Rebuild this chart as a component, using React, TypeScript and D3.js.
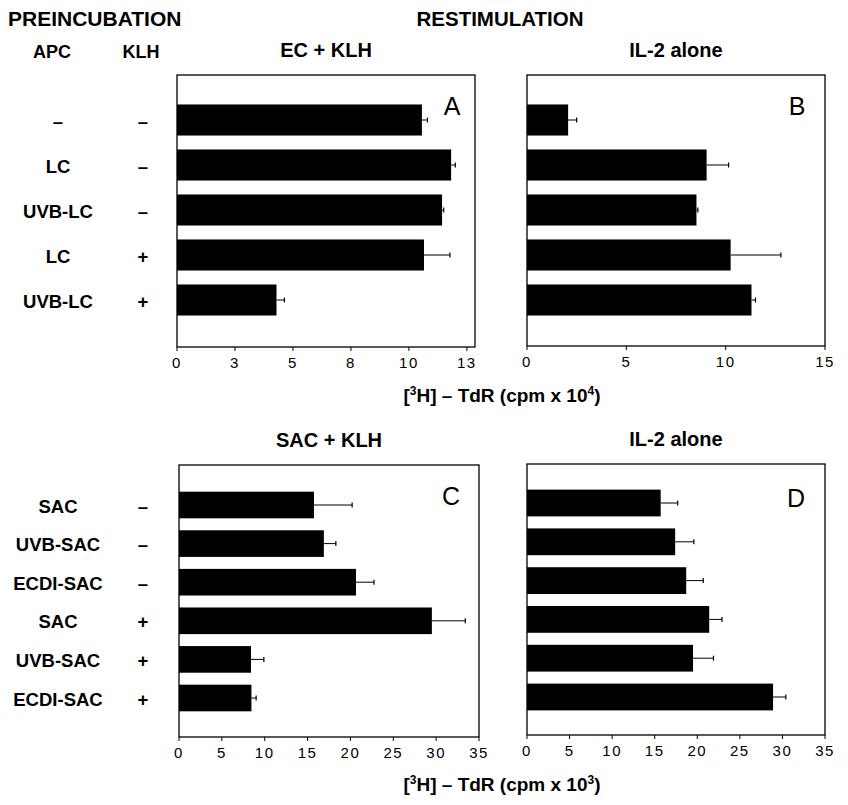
import React from "react";
import * as d3 from "d3";

// ---- Data ----
const apcTop = ["–", "LC", "UVB-LC", "LC", "UVB-LC"];
const klhTop = ["–", "–", "–", "+", "+"];
const apcBottom = ["SAC", "UVB-SAC", "ECDI-SAC", "SAC", "UVB-SAC", "ECDI-SAC"];
const klhBottom = ["–", "–", "–", "+", "+", "+"];

const valuesA = [10.56, 11.82, 11.43, 10.65, 4.29];
const errorsA = [0.24, 0.18, 0.07, 1.12, 0.34];
const valuesB = [2.07, 9.04, 8.53, 10.25, 11.3];
const errorsB = [0.43, 1.11, 0.07, 2.53, 0.2];
const valuesC = [15.75, 16.9, 20.65, 29.5, 8.4, 8.45];
const errorsC = [4.45, 1.4, 2.1, 3.9, 1.5, 0.55];
const valuesD = [15.7, 17.4, 18.7, 21.4, 19.5, 28.9];
const errorsD = [2.0, 2.2, 2.0, 1.5, 2.4, 1.5];

const ticksA = [0, 2.5, 5, 7.5, 10, 12.5];
const tickLabelsA = ["0", "3", "5", "8", "10", "13"];
const ticksB = [0, 5, 10, 15];
const ticksCD = [0, 5, 10, 15, 20, 25, 30, 35];

const FONT = "'Liberation Sans', Arial, Helvetica, sans-serif";

type PanelProps = {
  values: number[];
  errors: number[];
  xDomain: [number, number];
  xRange: [number, number];
  yRange: [number, number];
  top: number;
  bottom: number;
  ticks: number[];
  tickLabels?: string[];
  letter: string;
  letterX: number;
  letterY: number;
  title: string;
};

function Panel(p: PanelProps) {
  const x = d3.scaleLinear().domain(p.xDomain).range(p.xRange);
  const y = d3
    .scaleBand<number>()
    .domain(d3.range(p.values.length))
    .range(p.yRange)
    .paddingInner(0.31)
    .paddingOuter(0.155);
  const [x0, x1] = p.xRange;
  return (
    <g>
      <text
        x={(x0 + x1) / 2}
        y={p.top - 18}
        textAnchor="middle"
        fontFamily={FONT}
        fontWeight="bold"
        fontSize={20}
      >
        {p.title}
      </text>
      <rect
        x={x0}
        y={p.top}
        width={x1 - x0}
        height={p.bottom - p.top}
        fill="none"
        stroke="#000"
        strokeWidth={1.3}
      />
      {p.values.map((v, i) => {
        const yc = (y(i) as number) + y.bandwidth() / 2;
        const xe = x(v + p.errors[i]);
        return (
          <g key={i}>
            <rect
              x={x(0)}
              y={y(i)}
              width={x(v) - x(0)}
              height={y.bandwidth()}
              fill="#000"
            />
            <line x1={x(v)} x2={xe} y1={yc} y2={yc} stroke="#000" strokeWidth={1} />
            <line x1={xe} x2={xe} y1={yc - 2.5} y2={yc + 2.5} stroke="#000" strokeWidth={1.2} />
          </g>
        );
      })}
      {p.ticks.map((t, i) => (
        <g key={t}>
          <line x1={x(t)} x2={x(t)} y1={p.bottom} y2={p.bottom + 4} stroke="#000" strokeWidth={1} />
          <text
            x={x(t)}
            y={p.bottom + 21}
            textAnchor="middle"
            fontFamily={FONT}
            fontSize={15}
            letterSpacing={1.5}
          >
            {p.tickLabels ? p.tickLabels[i] : String(t)}
          </text>
        </g>
      ))}
      <text
        x={p.letterX}
        y={p.letterY}
        textAnchor="middle"
        fontFamily={FONT}
        fontSize={25}
      >
        {p.letter}
      </text>
    </g>
  );
}

function RowLabels({
  apc,
  klh,
  yRange,
}: {
  apc: string[];
  klh: string[];
  yRange: [number, number];
}) {
  const y = d3
    .scaleBand<number>()
    .domain(d3.range(apc.length))
    .range(yRange)
    .paddingInner(0.31)
    .paddingOuter(0.155);
  return (
    <g fontFamily={FONT} fontWeight="bold" fontSize={18.5}>
      {apc.map((a, i) => {
        const yc = (y(i) as number) + y.bandwidth() / 2 + 1;
        return (
          <g key={i}>
            <text x={58} y={yc} textAnchor="middle" dominantBaseline="central">
              {a}
            </text>
            <text x={143} y={yc} textAnchor="middle" dominantBaseline="central">
              {klh[i]}
            </text>
          </g>
        );
      })}
    </g>
  );
}

export default function App() {
  const yTop: [number, number] = [97.5, 322.5];
  const yBotC: [number, number] = [485.7, 717.3];
  const yBotD: [number, number] = [483.6, 716.4];
  return (
    <svg width={848} height={805} style={{ display: "block", position: "absolute", left: 0, top: 0 }}>
      <rect x={0} y={0} width={848} height={805} fill="#fff" />
      <g fontFamily={FONT} fontWeight="bold">
        <text x={8} y={26} fontSize={21}>PREINCUBATION</text>
        <text x={500} y={26} fontSize={20.5} textAnchor="middle">RESTIMULATION</text>
        <text x={52} y={58} fontSize={18} textAnchor="middle">APC</text>
        <text x={141} y={58} fontSize={18} textAnchor="middle">KLH</text>
      </g>
      <RowLabels apc={apcTop} klh={klhTop} yRange={yTop} />
      <RowLabels apc={apcBottom} klh={klhBottom} yRange={yBotC} />
      <Panel
        values={valuesA}
        errors={errorsA}
        xDomain={[0, 12.85]}
        xRange={[177, 475]}
        yRange={yTop}
        top={75}
        bottom={347}
        ticks={ticksA}
        tickLabels={tickLabelsA}
        letter="A"
        letterX={452}
        letterY={115}
        title="EC + KLH"
      />
      <Panel
        values={valuesB}
        errors={errorsB}
        xDomain={[0, 15]}
        xRange={[527, 825]}
        yRange={yTop}
        top={75}
        bottom={346}
        ticks={ticksB}
        letter="B"
        letterX={797}
        letterY={115}
        title="IL-2 alone"
      />
      <Panel
        values={valuesC}
        errors={errorsC}
        xDomain={[0, 35]}
        xRange={[179, 479]}
        yRange={yBotC}
        top={465}
        bottom={737}
        ticks={ticksCD}
        letter="C"
        letterX={451}
        letterY={505}
        title="SAC + KLH"
      />
      <Panel
        values={valuesD}
        errors={errorsD}
        xDomain={[0, 35]}
        xRange={[527, 825]}
        yRange={yBotD}
        top={464}
        bottom={735}
        ticks={ticksCD}
        letter="D"
        letterX={796}
        letterY={507}
        title="IL-2 alone"
      />
      <g fontFamily={FONT} fontWeight="bold" fontSize={19}>
        <text x={502} y={402} textAnchor="middle">
          [<tspan dy={-7} fontSize={12}>3</tspan>
          <tspan dy={7}>H] – TdR (cpm x 10</tspan>
          <tspan dy={-7} fontSize={12}>4</tspan>
          <tspan dy={7}>)</tspan>
        </text>
        <text x={502} y={791} textAnchor="middle">
          [<tspan dy={-7} fontSize={12}>3</tspan>
          <tspan dy={7}>H] – TdR (cpm x 10</tspan>
          <tspan dy={-7} fontSize={12}>3</tspan>
          <tspan dy={7}>)</tspan>
        </text>
      </g>
    </svg>
  );
}
